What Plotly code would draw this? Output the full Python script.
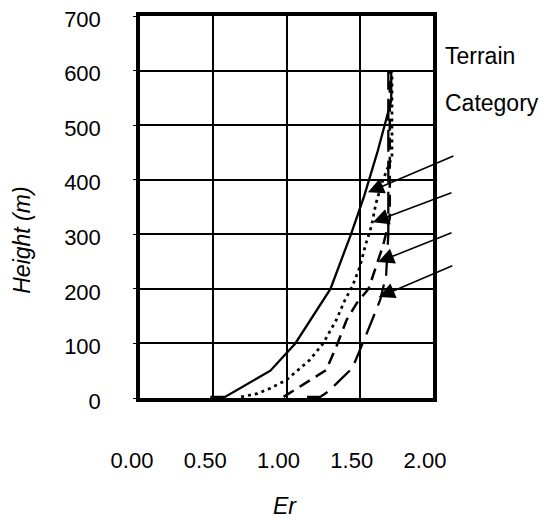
import plotly.graph_objects as go

# ---- data (Er vs height in m) ----
cat4_er = [0.48, 0.58, 0.89, 1.06, 1.30, 1.44, 1.53, 1.62, 1.715, 1.715]
cat4_h = [2, 2, 50, 100, 200, 300, 370, 450, 545, 600]

cat3_er = [0.69, 0.80, 0.89, 1.00, 1.16, 1.25, 1.34, 1.40, 1.45, 1.50, 1.54, 1.58, 1.61, 1.65, 1.72, 1.72]
cat3_h = [2, 8, 18, 33, 70, 100, 143, 180, 205, 240, 281, 315, 356, 393, 442, 600]

cat2_er = [0.98, 1.27, 1.34, 1.41, 1.48, 1.56, 1.61, 1.66, 1.705, 1.705]
cat2_h = [2, 51, 94, 143, 174, 200, 240, 280, 330, 600]

cat1_er = [1.14, 1.23, 1.29, 1.45, 1.52, 1.64, 1.68, 1.695, 1.695]
cat1_h = [2, 2, 13, 55, 100, 180, 225, 300, 600]

# arrow tips (Er, height)
arrow_er = [1.556, 1.59, 1.625, 1.63]
arrow_h = [377, 322, 249, 185]

x_ticks = [0.0, 0.5, 1.0, 1.5, 2.0]
y_ticks = [0, 100, 200, 300, 400, 500, 600, 700]

FONT = "Arial, Liberation Sans, sans-serif"

fig = go.Figure()
series = [
    (cat4_er, cat4_h, dict(color="black", width=2.3, dash="solid")),
    (cat3_er, cat3_h, dict(color="black", width=2.7, dash="3px,4px")),
    (cat2_er, cat2_h, dict(color="black", width=2.5, dash="12px,7px")),
    (cat1_er, cat1_h, dict(color="black", width=2.3, dash="22px,9px")),
]
for xs, ys, ln in series:
    fig.add_trace(go.Scatter(x=xs, y=ys, mode="lines", line=ln,
                             showlegend=False, hoverinfo="skip"))

# arrows pointing at the curves
offsets = [(87, -37), (80, -30), (75, -30), (75, -32)]
for (xe, yh), (ax, ay) in zip(zip(arrow_er, arrow_h), offsets):
    fig.add_annotation(x=xe, y=yh, xref="x", yref="y", ax=ax, ay=ay,
                       axref="pixel", ayref="pixel", text="", showarrow=True,
                       arrowhead=2, arrowsize=2.0, arrowwidth=1.6,
                       arrowcolor="black")

fig.add_annotation(text="Terrain", x=1.034, y=0.895, xref="paper", yref="paper",
                   xanchor="left", yanchor="middle", showarrow=False,
                   font=dict(family=FONT, size=23, color="black"))
fig.add_annotation(text="Category", x=1.034, y=0.772, xref="paper", yref="paper",
                   xanchor="left", yanchor="middle", showarrow=False,
                   font=dict(family=FONT, size=23, color="black"))
fig.add_annotation(text="<i>Height (m)</i>", x=-0.403, y=0.414, xref="paper",
                   yref="paper", textangle=-90, showarrow=False,
                   xanchor="center", yanchor="middle",
                   font=dict(family=FONT, size=23, color="black"))
fig.add_annotation(text="<i>Er</i>", x=0.495, y=-0.283, xref="paper",
                   yref="paper", showarrow=False, xanchor="center",
                   yanchor="middle",
                   font=dict(family=FONT, size=23, color="black"))

# page body has an 8px default margin, so the figure is 8px smaller
fig.update_layout(
    width=540, height=514,
    margin=dict(l=132, r=115, t=8, b=124, autoexpand=False),
    paper_bgcolor="white", plot_bgcolor="white",
    font=dict(family=FONT, size=22, color="black"),
)
fig.update_xaxes(
    range=[0, 2], tickvals=x_ticks, tickformat=".2f", automargin=False,
    showgrid=True, gridcolor="black", gridwidth=1.5,
    showline=True, linecolor="black", linewidth=3.5, mirror=True,
    ticks="", zeroline=False, ticklabelshift=-8, ticklabelstandoff=40,
    tickfont=dict(family=FONT, size=22, color="black"),
)
fig.update_yaxes(
    range=[0, 700], tickvals=y_ticks, automargin=False,
    showgrid=True, gridcolor="black", gridwidth=1.5,
    showline=True, linecolor="black", linewidth=3.5, mirror=True,
    ticks="outside", ticklen=3, tickcolor="black", zeroline=False,
    ticklabelstandoff=28, ticklabelshift=3, ticklabeloverflow="allow",
    tickfont=dict(family=FONT, size=22, color="black"),
)

fig.write_html("out.html")
